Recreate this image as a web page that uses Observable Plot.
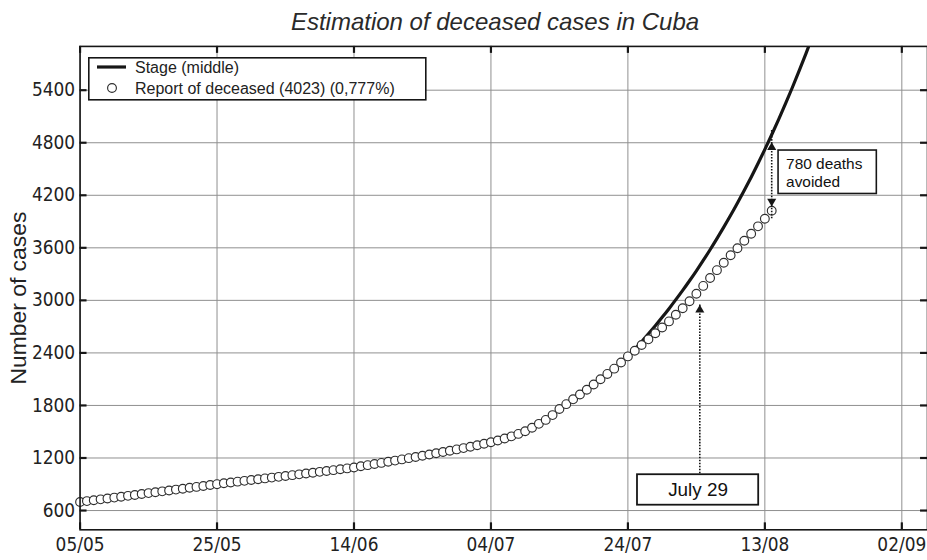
<!DOCTYPE html>
<html><head><meta charset="utf-8">
<script src="https://cdn.jsdelivr.net/npm/d3@7"></script>
<script src="https://cdn.jsdelivr.net/npm/@observablehq/plot@0.6"></script>
<style>
body{margin:0;background:#fff;overflow:hidden;font-family:"Liberation Sans",Arial,sans-serif;}
#wrap{position:relative;width:927px;height:560px;overflow:hidden;background:#fff;}
#title{position:absolute;left:0;top:6px;width:990px;height:32px;text-align:center;font-style:italic;font-size:24px;line-height:32px;color:#2a2a2a;z-index:2;}
#chart{position:absolute;left:0;top:30px;}
#legend{position:absolute;left:88px;top:57px;z-index:2;}
</style></head><body>
<div id="wrap"><div id="chart"></div><div id="title">Estimation of deceased cases in Cuba</div><div id="legend"></div></div>
<script>
// ---- data ----
const startDate = "2021-05-05";
const seriesNames = ["Stage (middle)", "Report of deceased (4023) (0,777%)"];
// reported cumulative deceased, one value per day from 05/05
const deceased = [
  698, 708, 718, 728, 738, 748, 758, 768, 778, 789,
  799, 809, 819, 829, 839, 849, 860, 870, 880, 891,
  901, 911, 920, 930, 939, 948, 957, 967, 976, 985,
  995, 1004, 1013, 1023, 1032, 1042, 1051, 1061, 1071, 1081,
  1092, 1105, 1118, 1131, 1144, 1157, 1170, 1184, 1198, 1212,
  1226, 1240, 1254, 1268, 1283, 1298, 1313, 1329, 1345, 1362,
  1380, 1400, 1422, 1447, 1475, 1505, 1545, 1590, 1635, 1690,
  1760, 1815, 1870, 1925, 1980, 2040, 2100, 2160, 2220, 2290,
  2360, 2425, 2490, 2555, 2625, 2690, 2760, 2835, 2910, 2990,
  3075, 3165, 3255, 3345, 3430, 3515, 3595, 3680, 3760, 3845,
  3932, 4023
];
// "Stage (middle)" estimate, one value per day starting at day 80 (24/07)
const stageStartDay = 80;
const stageValues = [
  2360, 2442, 2528, 2618, 2710, 2806, 2905, 3008, 3114, 3224,
  3338, 3456, 3578, 3705, 3836, 3971, 4112, 4257, 4407, 4563,
  4724, 4891, 5064, 5243, 5428, 5620, 5818, 6024
];
const xTickDays = [0, 20, 40, 60, 80, 100, 120];
const yTicks = [600, 1200, 1800, 2400, 3000, 3600, 4200, 4800, 5400];
const avoided = {day: 101, from: 4023, to: 4803, label: "780 deaths\navoided"};
const july = {label: "July 29", arrowDay: 90.5, arrowFrom: 1009, arrowTo: 2947};

// ---- annotation placement (data coordinates) ----
const avoidedBox = {d1: 102.0, d2: 116.35, v1: 4215, v2: 4711, textDay: 103.1, textValue: 4463};
const julyBox = {d1: 81.4, d2: 99.1, v1: 661, v2: 1009};

const start = new Date(startDate + "T00:00:00Z");
const day = k => new Date(+start + k * 864e5);
const reported = deceased.map((v, i) => ({date: day(i), value: v}));
const stage = stageValues.map((v, i) => ({date: day(stageStartDay + i), value: v}));
const xTicks = xTickDays.map(day);

const W = 932, H = 530, mt = 16, mb = 28, ml = 80, mr = 0;
const innerW = W - ml - mr, innerH = H - mt - mb;
const ink = "#161616", grid = "#8f8f8f";
const font = "'Liberation Sans', Arial, sans-serif";
const tickFont = "'Liberation Sans Narrow', 'Arial Narrow', 'DejaVu Sans Condensed', sans-serif";

const chart = Plot.plot({
  width: W, height: H, marginTop: mt, marginBottom: mb, marginLeft: ml, marginRight: mr,
  style: {fontFamily: font, fontSize: "16px", color: "#222", background: "white", overflow: "visible"},
  x: {type: "utc", domain: [start, day(123.75)]},
  y: {domain: [380, 5900]},
  marks: [
    Plot.gridX(xTicks, {stroke: grid, strokeOpacity: 1, strokeWidth: 1}),
    Plot.gridY(yTicks, {stroke: grid, strokeOpacity: 1, strokeWidth: 1}),
    Plot.axisX(xTicks, {tickSize: 0, tickPadding: 8, tickFormat: d3.utcFormat("%d/%m"), label: null, fontSize: 19, fontFamily: tickFont, fill: "#222"}),
    Plot.axisY(yTicks, {tickSize: 0, tickPadding: 5, tickFormat: d3.format("d"), label: null, fontSize: 19, fontFamily: tickFont, fill: "#222"}),
    Plot.text(["Number of cases"], {frameAnchor: "left", textAnchor: "middle", rotate: -90, dx: -61.5, dy: 10, fontSize: 23, fill: "#222"}),
    Plot.tickX(xTicks, {x: d => d, insetTop: innerH - 7, stroke: ink, strokeWidth: 2.2}),
    Plot.tickX(xTicks, {x: d => d, insetBottom: innerH - 7, stroke: ink, strokeWidth: 2.2}),
    Plot.tickY(yTicks, {y: d => d, insetRight: innerW - 7, stroke: ink, strokeWidth: 2.2}),
    Plot.tickY(yTicks, {y: d => d, insetLeft: innerW - 7, stroke: ink, strokeWidth: 2.2}),
    Plot.line(stage, {x: "date", y: "value", stroke: ink, strokeWidth: 3.2, curve: "natural", clip: true}),
    Plot.dot(reported, {x: "date", y: "value", r: 4.4, fill: "white", stroke: "#2e2e2e", strokeWidth: 1.15}),
    // 780 deaths avoided: dotted double arrow
    Plot.ruleX([avoided], {x: d => day(d.day), y1: "from", y2: "to", insetTop: 8, insetBottom: 12, stroke: ink, strokeWidth: 1.6, strokeDasharray: "1.6,1.4"}),
    Plot.dot([avoided], {x: d => day(d.day), y: "to", symbol: "triangle", r: 3.4, fill: ink, stroke: "none", dy: 5}),
    Plot.dot([avoided], {x: d => day(d.day), y: "from", symbol: "triangle", r: 3.4, fill: ink, stroke: "none", rotate: 180, dy: -9.5}),
    Plot.rect([avoidedBox], {x1: d => day(d.d1), x2: d => day(d.d2), y1: "v1", y2: "v2", fill: "white", stroke: ink, strokeWidth: 1.6}),
    Plot.text([avoided], {x: () => day(avoidedBox.textDay), y: () => avoidedBox.textValue, text: "label", textAnchor: "start", fontSize: 15.5, lineHeight: 1.2, fill: "#111"}),
    // July 29 box and arrow
    Plot.ruleX([july], {x: d => day(d.arrowDay), y1: "arrowFrom", y2: "arrowTo", insetTop: 8, stroke: ink, strokeWidth: 1.6, strokeDasharray: "1.6,1.4"}),
    Plot.dot([july], {x: d => day(d.arrowDay), y: "arrowTo", symbol: "triangle", r: 3.4, fill: ink, stroke: "none", dy: 5}),
    Plot.rect([julyBox], {x1: d => day(d.d1), x2: d => day(d.d2), y1: "v1", y2: "v2", fill: "white", stroke: ink, strokeWidth: 1.8}),
    Plot.text([july], {x: () => day((julyBox.d1 + julyBox.d2) / 2), y: () => (julyBox.v1 + julyBox.v2) / 2, text: "label", fontSize: 19, fill: "#111"}),
    Plot.frame({stroke: ink, strokeWidth: 1.6})
  ]
});
document.getElementById("chart").appendChild(chart);

// legend (inside plot frame, top-left)
const lg = d3.select("#legend").append("svg").attr("width", 340).attr("height", 44)
  .style("font-family", font).style("font-size", "16px");
lg.append("rect").attr("x", 0.8).attr("y", 0.8).attr("width", 337).attr("height", 42)
  .attr("fill", "white").attr("stroke", ink).attr("stroke-width", 1.6);
lg.append("line").attr("x1", 9).attr("x2", 38).attr("y1", 10).attr("y2", 10).attr("stroke", ink).attr("stroke-width", 3.2);
lg.append("circle").attr("cx", 24).attr("cy", 31).attr("r", 4.4).attr("fill", "white").attr("stroke", "#2e2e2e").attr("stroke-width", 1.15);
lg.append("text").attr("x", 47).attr("y", 16).attr("fill", "#222").text(seriesNames[0]);
lg.append("text").attr("x", 47).attr("y", 37).attr("fill", "#222").text(seriesNames[1]);
</script>
</body></html>
